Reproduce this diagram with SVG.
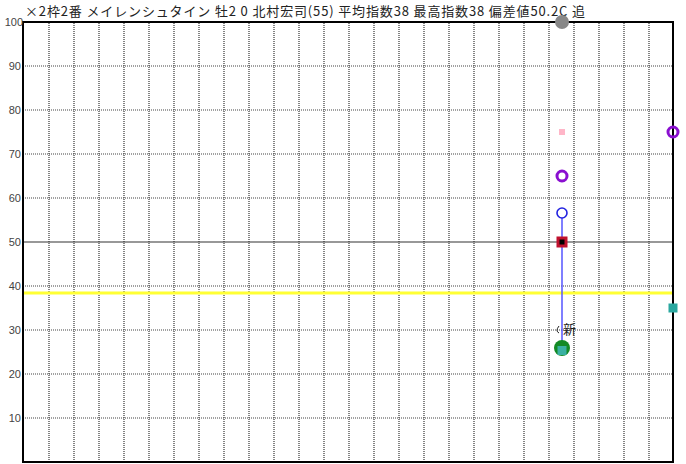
<svg xmlns="http://www.w3.org/2000/svg" width="686" height="464" viewBox="0 0 686 464">
<style>
.ax{font-family:"Liberation Sans",Arial,sans-serif;font-size:11px;fill:#444;text-anchor:end}
.ttl{font-family:"Noto Sans CJK JP","Noto Sans",sans-serif;font-size:13px;fill:#222}
.vg{stroke:#777;stroke-width:1.8;stroke-dasharray:1 1}
.hg{stroke:#444;stroke-width:1.2;stroke-dasharray:1 1}
</style>
<rect width="686" height="464" fill="#fff"/>
<text class="ttl" x="25" y="16" textLength="560" lengthAdjust="spacing">×2枠2番 メイレンシュタイン 牡2 0 北村宏司(55) 平均指数38 最高指数38 偏差値50.2C 追</text>
<g id="grid">
<g id="vgrid" class="vg">
<line x1="49" y1="23" x2="49" y2="461"/><line x1="74" y1="23" x2="74" y2="461"/><line x1="99" y1="23" x2="99" y2="461"/><line x1="124" y1="23" x2="124" y2="461"/><line x1="149" y1="23" x2="149" y2="461"/><line x1="174" y1="23" x2="174" y2="461"/><line x1="199" y1="23" x2="199" y2="461"/><line x1="224" y1="23" x2="224" y2="461"/><line x1="249" y1="23" x2="249" y2="461"/><line x1="274" y1="23" x2="274" y2="461"/><line x1="299" y1="23" x2="299" y2="461"/><line x1="324" y1="23" x2="324" y2="461"/><line x1="349" y1="23" x2="349" y2="461"/><line x1="374" y1="23" x2="374" y2="461"/><line x1="399" y1="23" x2="399" y2="461"/><line x1="424" y1="23" x2="424" y2="461"/><line x1="449" y1="23" x2="449" y2="461"/><line x1="474" y1="23" x2="474" y2="461"/><line x1="499" y1="23" x2="499" y2="461"/><line x1="524" y1="23" x2="524" y2="461"/><line x1="549" y1="23" x2="549" y2="461"/><line x1="574" y1="23" x2="574" y2="461"/><line x1="599" y1="23" x2="599" y2="461"/><line x1="624" y1="23" x2="624" y2="461"/><line x1="649" y1="23" x2="649" y2="461"/>
</g>
<g id="hgrid" class="hg">
<line x1="23" y1="66" x2="673" y2="66"/><line x1="23" y1="110" x2="673" y2="110"/><line x1="23" y1="154" x2="673" y2="154"/><line x1="23" y1="198" x2="673" y2="198"/><line x1="23" y1="286" x2="673" y2="286"/><line x1="23" y1="330" x2="673" y2="330"/><line x1="23" y1="374" x2="673" y2="374"/><line x1="23" y1="418" x2="673" y2="418"/>
</g>
<line x1="23" y1="242" x2="673" y2="242" stroke="#333" stroke-width="1.2"/>
<line x1="23" y1="293" x2="673" y2="293" stroke="#ffff33" stroke-width="3"/>
<rect x="23" y="22" width="650" height="440" fill="none" stroke="#000" stroke-width="2"/>
</g>
<g id="axis">
<text class="ax" x="23" y="26">100</text>
<text class="ax" x="21" y="70">90</text>
<text class="ax" x="21" y="114">80</text>
<text class="ax" x="21" y="158">70</text>
<text class="ax" x="21" y="202">60</text>
<text class="ax" x="21" y="246">50</text>
<text class="ax" x="21" y="290">40</text>
<text class="ax" x="21" y="334">30</text>
<text class="ax" x="21" y="378">20</text>
<text class="ax" x="21" y="422">10</text>
</g>
<g id="connectors">
<line x1="562" y1="218" x2="562" y2="348" stroke="#5555ff" stroke-width="1.5"/>
</g>
<g id="n-gray"><circle cx="562" cy="22" r="7" fill="#888"/></g>
<g id="n-pink"><rect x="559" y="129" width="6" height="6" fill="#ffb6c8"/></g>
<g id="n-purple"><circle cx="562" cy="176" r="5" fill="none" stroke="#8a0fd0" stroke-width="3"/></g>
<g id="n-blue"><circle cx="562" cy="213" r="5" fill="none" stroke="#2222e0" stroke-width="1.6"/></g>
<g id="n-red"><rect x="556.5" y="236.5" width="11" height="11" fill="#c0102e"/><rect x="559.5" y="239.5" width="5" height="5" fill="#000"/></g>
<g id="n-new">
<path d="M559 326 Q555 331 559 333" fill="none" stroke="#222" stroke-width="1"/>
<text x="563" y="334" font-family="'Noto Sans CJK JP',sans-serif" font-size="13" fill="#222">新</text>
</g>
<g id="n-green"><circle cx="562" cy="348" r="8" fill="#138a25"/><rect x="557.5" y="346" width="9" height="9" fill="#3ab0a2"/></g>
<g id="n-right-purple"><circle cx="673" cy="132" r="5" fill="none" stroke="#8a0fd0" stroke-width="3"/></g>
<g id="n-right-teal"><rect x="668.5" y="303.5" width="9" height="9" fill="#2aa8a0"/></g>
</svg>
